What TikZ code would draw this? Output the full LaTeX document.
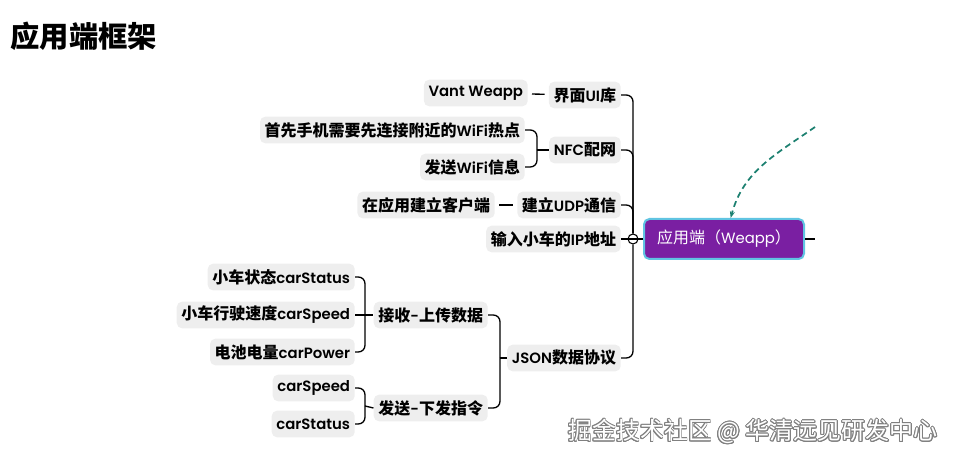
\documentclass[tikz,border=0pt]{standalone}
\usepackage{fontspec}
\setmainfont{Poppins}[Scale=0.93, BoldFont={Poppins SemiBold}]
\newfontfamily\cjkfont{Noto Sans CJK SC}
\usepackage{contour}
\contourlength{0.6pt}
\usetikzlibrary{arrows.meta}
% switch to the CJK font for Chinese characters
\XeTeXinterchartokenstate=1
\newXeTeXintercharclass\cjkclass
\newcount\cjkcode
\cjkcode="3000
\loop \XeTeXcharclass\cjkcode=\cjkclass \advance\cjkcode by 1 \ifnum\cjkcode<"A000 \repeat
\cjkcode="FF00
\loop \XeTeXcharclass\cjkcode=\cjkclass \advance\cjkcode by 1 \ifnum\cjkcode<"FFF0 \repeat
\XeTeXinterchartoks 0 \cjkclass = {\cjkfont}
\XeTeXinterchartoks 4095 \cjkclass = {\cjkfont}
\XeTeXinterchartoks \cjkclass 0 = {\rmfamily}
\definecolor{rootpurple}{RGB}{122,31,162}
\definecolor{rootedge}{RGB}{96,196,226}
\definecolor{topicgray}{RGB}{238,238,238}
\definecolor{linkteal}{RGB}{28,128,112}
\begin{document}
\begin{tikzpicture}[x=0.75pt,y=-0.75pt]
    \tikzstyle{topic} = [fill=topicgray, rounded corners=4pt, inner xsep=3.5pt, inner ysep=0pt, minimum height=20pt, anchor=east, font=\fontsize{12}{14}\selectfont\bfseries]
    \tikzstyle{link} = [line width=1pt, rounded corners=5pt]
    \useasboundingbox (0,0) rectangle (958,459);

    \node[anchor=west, font=\fontsize{22}{26}\selectfont\bfseries] (title) at (6,36) {应用端框架};

    % root and hub
    \node[fill=rootpurple, draw=rootedge, line width=1.5pt, rounded corners=4pt, minimum width=120pt, minimum height=30pt, text=white, font=\fontsize{12}{14}\selectfont] (root) at (724,239) {应用端（Weapp）};
    \node[circle, draw, fill=white, line width=0.8pt, minimum size=7.5pt, inner sep=0pt] (hub) at (633,239) {};
    \coordinate (stub) at (815,239);
    \coordinate (dashsrc) at (815,127);

    % first level
    \node[topic] (ui) at (621,95) {界面UI库};
    \node[topic] (nfc) at (621,150) {NFC配网};
    \node[topic] (udp) at (621,205) {建立UDP通信};
    \node[topic] (ip) at (621,239) {输入小车的IP地址};
    \node[topic] (json) at (621,358) {JSON数据协议};

    % second level
    \node[topic] (vant) at (528,93) {Vant Weapp};
    \node[topic] (wifi) at (525,130) {首先手机需要先连接附近的WiFi热点};
    \node[topic] (send) at (525,167) {发送WiFi信息};
    \node[topic] (client) at (495,205) {在应用建立客户端};
    \node[topic] (upload) at (488,315) {接收-上传数据};
    \node[topic] (command) at (488,408) {发送-下发指令};

    % third level
    \node[topic] (status) at (355,277) {小车状态carStatus};
    \node[topic] (speed) at (355,315) {小车行驶速度carSpeed};
    \node[topic] (power) at (355,352) {电池电量carPower};
    \node[topic] (cmdspeed) at (355,388) {carSpeed};
    \node[topic] (cmdstatus) at (355,424) {carStatus};

    \coordinate (nfcj) at (537,150);
    \coordinate (jsonj) at (500,358);
    \coordinate (uploadj) at (365,315);
    \coordinate (commandj) at (365,406);

    \draw[link] (root.west) -- (hub);
    \draw[line width=0.8pt] (hub.west) -- (hub.east);
    \draw[line width=1.5pt] (root.east) -- (stub);
    \draw[link] (hub) |- (ui.east);
    \draw[link] (hub) |- (nfc.east);
    \draw[link] (hub) |- (udp.east);
    \draw[link] (hub) -- (ip.east);
    \draw[link] (hub) |- (json.east);

    \draw[link, shorten <=3pt, shorten >=3pt] (vant) -- (ui);
    \draw[link, shorten <=3pt, shorten >=3pt] (client) -- (udp);
    \draw[link] (wifi.east) -| (nfcj);
    \draw[link] (send.east) -| (nfcj);
    \draw[link] (nfcj) -- (nfc.west);

    \draw[link] (upload.east) -| (jsonj);
    \draw[link] (command.east) -| (jsonj);
    \draw[link] (jsonj) -- (json.west);

    \draw[link] (status.east) -| (uploadj);
    \draw[link] (power.east) -| (uploadj);
    \draw[link] (speed.east) -- (upload.west);
    \draw[link] (cmdspeed.east) -| (commandj);
    \draw[link] (cmdstatus.east) -| (commandj);
    \draw[link] (commandj) -- (command.west);

    \draw[linkteal, line width=1.3pt, dash pattern=on 4.5pt off 3pt, -{Stealth[length=5pt]}] (dashsrc) to[out=215, in=75] ([xshift=5pt]root.north);

    \node[anchor=east, font=\fontsize{18}{22}\selectfont] (mark) at (942,432) {\contour{gray}{\textcolor{white}{掘金技术社区 @ 华清远见研发中心}}};
\end{tikzpicture}
\end{document}
